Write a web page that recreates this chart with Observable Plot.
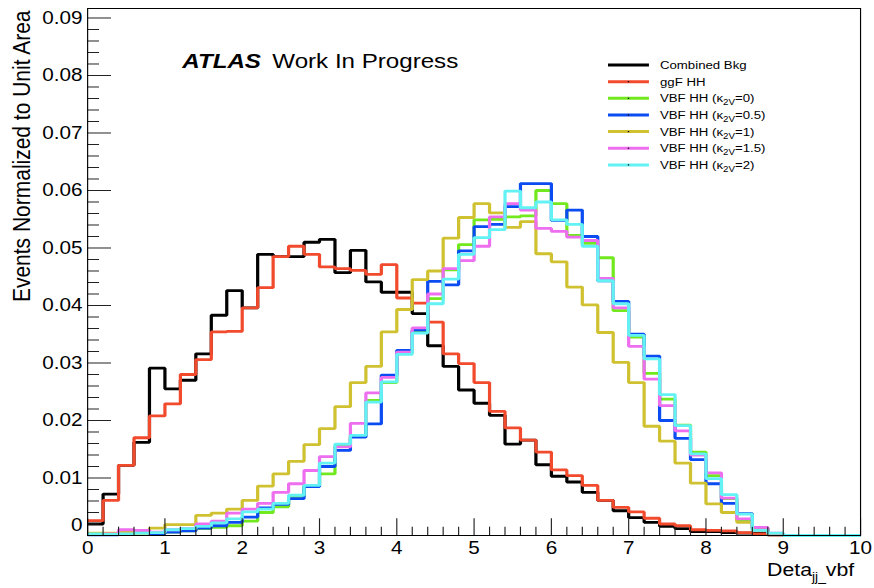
<!DOCTYPE html>
<html>
<head>
<meta charset="utf-8">
<script src="https://cdn.jsdelivr.net/npm/d3@7"></script>
<script src="https://cdn.jsdelivr.net/npm/@observablehq/plot@0.6"></script>
<style>
  html, body { margin: 0; padding: 0; background: #ffffff; }
  #chart { width: 874px; height: 588px; overflow: hidden; }
</style>
</head>
<body>
<div id="chart"></div>
<script>
// Δη_jj of the VBF-tagged jets, 50 bins of width 0.2 on [0, 10], each histogram normalised to unit area.
const binWidth = 0.2;
const nBins = 50;

const combinedBkg = [0.0020, 0.0072, 0.0122, 0.0162, 0.0291, 0.0255, 0.0270, 0.0316, 0.0383, 0.0426,
                     0.0396, 0.0489, 0.0485, 0.0485, 0.0510, 0.0515, 0.0457, 0.0496, 0.0441, 0.0423,
                     0.0423, 0.0386, 0.0330, 0.0294, 0.0253, 0.0230, 0.0209, 0.0159, 0.0166, 0.0123,
                     0.0103, 0.0093, 0.0075, 0.0061, 0.0043, 0.0031, 0.0023, 0.0016, 0.0012, 0.0007,
                     0.0007, 0.0005, 0.0004, 0.0004, 0.0001, 0, 0, 0, 0, 0];
const ggfHH       = [0.0026, 0.0061, 0.0122, 0.0170, 0.0208, 0.0229, 0.0280, 0.0306, 0.0354, 0.0355,
                     0.0396, 0.0431, 0.0485, 0.0503, 0.0489, 0.0467, 0.0464, 0.0461, 0.0454, 0.0471,
                     0.0413, 0.0404, 0.0371, 0.0316, 0.0299, 0.0266, 0.0216, 0.0187, 0.0166, 0.0145,
                     0.0114, 0.0104, 0.0087, 0.0061, 0.0049, 0.0041, 0.0030, 0.0020, 0.0017, 0.0010,
                     0.0009, 0.0008, 0.0005, 0.0003, 0.0001, 0, 0, 0, 0, 0];
const vbfK2V0     = [0.0002, 0.0002, 0.0003, 0.0004, 0.0004, 0.0006, 0.0008, 0.0012, 0.0014, 0.0017,
                     0.0025, 0.0040, 0.0050, 0.0068, 0.0087, 0.0107, 0.0155, 0.0174, 0.0235, 0.0266,
                     0.0318, 0.0355, 0.0412, 0.0462, 0.0506, 0.0549, 0.0550, 0.0554, 0.0556, 0.0600,
                     0.0577, 0.0522, 0.0508, 0.0483, 0.0391, 0.0345, 0.0282, 0.0237, 0.0192, 0.0145,
                     0.0104, 0.0064, 0.0026, 0.0012, 0.0003, 0, 0, 0, 0, 0];
const vbfK2V05    = [0.0001, 0.0001, 0.0005, 0.0005, 0.0003, 0.0006, 0.0008, 0.0013, 0.0017, 0.0023,
                     0.0032, 0.0048, 0.0054, 0.0064, 0.0085, 0.0120, 0.0148, 0.0171, 0.0194, 0.0279,
                     0.0322, 0.0357, 0.0442, 0.0436, 0.0495, 0.0537, 0.0541, 0.0572, 0.0612, 0.0612,
                     0.0548, 0.0566, 0.0520, 0.0443, 0.0407, 0.0350, 0.0312, 0.0200, 0.0169, 0.0132,
                     0.0090, 0.0056, 0.0038, 0.0012, 0.0003, 0, 0, 0, 0, 0];
const vbfK2V1     = [0.0004, 0.0004, 0.0007, 0.0009, 0.0013, 0.0019, 0.0019, 0.0035, 0.0039, 0.0046,
                     0.0061, 0.0086, 0.0107, 0.0129, 0.0158, 0.0186, 0.0224, 0.0266, 0.0294, 0.0354,
                     0.0393, 0.0445, 0.0460, 0.0517, 0.0553, 0.0577, 0.0561, 0.0536, 0.0546, 0.0490,
                     0.0476, 0.0432, 0.0401, 0.0353, 0.0301, 0.0266, 0.0190, 0.0164, 0.0126, 0.0091,
                     0.0055, 0.0040, 0.0023, 0.0010, 0.0002, 0, 0, 0, 0, 0];
const vbfK2V15    = [0.0002, 0.0003, 0.0010, 0.0009, 0.0006, 0.0010, 0.0012, 0.0020, 0.0025, 0.0039,
                     0.0046, 0.0056, 0.0075, 0.0090, 0.0113, 0.0137, 0.0154, 0.0195, 0.0248, 0.0275,
                     0.0319, 0.0361, 0.0420, 0.0464, 0.0478, 0.0503, 0.0554, 0.0577, 0.0566, 0.0534,
                     0.0529, 0.0519, 0.0513, 0.0447, 0.0396, 0.0329, 0.0272, 0.0226, 0.0182, 0.0140,
                     0.0109, 0.0065, 0.0029, 0.0014, 0.0004, 0, 0, 0, 0, 0];
const vbfK2V2     = [0.0003, 0.0002, 0.0003, 0.0004, 0.0005, 0.0010, 0.0012, 0.0016, 0.0022, 0.0029,
                     0.0041, 0.0046, 0.0056, 0.0070, 0.0087, 0.0126, 0.0159, 0.0174, 0.0232, 0.0267,
                     0.0315, 0.0352, 0.0403, 0.0446, 0.0489, 0.0518, 0.0532, 0.0599, 0.0570, 0.0580,
                     0.0549, 0.0541, 0.0503, 0.0443, 0.0403, 0.0348, 0.0307, 0.0245, 0.0191, 0.0142,
                     0.0099, 0.0071, 0.0037, 0.0009, 0.0004, 0, 0, 0, 0, 0];

const seriesNames  = ["Combined Bkg", "ggF HH", "VBF HH", "VBF HH", "VBF HH", "VBF HH", "VBF HH"];
const kappa2V      = [null, null, "0", "0.5", "1", "1.5", "2"];
const seriesColors = ["#000000", "#f24a2c", "#72e81e", "#0a4cf2", "#cfc130", "#ee6ef0", "#62f2f4"];
const seriesValues = [combinedBkg, ggfHH, vbfK2V0, vbfK2V05, vbfK2V1, vbfK2V15, vbfK2V2];

const xTickValues = [0, 1, 2, 3, 4, 5, 6, 7, 8, 9, 10];
const yTickValues = [0, 0.01, 0.02, 0.03, 0.04, 0.05, 0.06, 0.07, 0.08, 0.09];

const xTitle = "Deta";
const yTitle = "Events Normalized to Unit Area";

// ---- layout (drawn on a 760-wide canvas, then stretched to 874 px) ----
const W = 760, H = 588, outW = 874;
const mLeft = 75.7, mRight = 12.2, mTop = 8, mBottom = 53;
const FONT = "'Liberation Sans', Arial, Helvetica, sans-serif";

const binLow = d3.range(nBins).map(i => Math.round(i * binWidth * 10) / 10);
function stepRows(values) {
  const rows = values.map((v, i) => ({x: binLow[i], y: v}));
  rows.push({x: binLow[nBins - 1] + binWidth, y: values[values.length - 1]});
  return rows;
}

const xMinor = d3.range(0, 10.001, binWidth).map(v => Math.round(v * 10) / 10).filter(v => !xTickValues.includes(v));
const yMinor = d3.range(0.002, 0.0905, 0.002).map(v => Math.round(v * 1000) / 1000).filter(v => Math.round(v * 1000) % 10 !== 0);

const histMarks = seriesValues.map((vals, k) =>
  Plot.line(stepRows(vals), {
    x: "x", y: "y", curve: "step-after",
    stroke: seriesColors[k], strokeWidth: 2.8,
    strokeLinejoin: "miter", strokeLinecap: "butt"
  })
);

const tickColor = "#222";
const chart = Plot.plot({
  width: W, height: H,
  marginLeft: mLeft, marginRight: mRight, marginTop: mTop, marginBottom: mBottom,
  style: {fontFamily: FONT, fontSize: "18px", color: "#000", background: "#fff"},
  x: {domain: [0, 10]},
  y: {domain: [0, 0.09165]},
  marks: [
    ...histMarks,
    // inward ticks, ROOT style
    Plot.ruleY(yTickValues, {x1: 0, x2: 0.31, stroke: tickColor, strokeWidth: 1}),
    Plot.ruleY(yMinor, {x1: 0, x2: 0.155, stroke: tickColor, strokeWidth: 1}),
    Plot.ruleX(xTickValues, {y1: 0, y2: 0.0029, stroke: tickColor, strokeWidth: 1}),
    Plot.ruleX(xMinor, {y1: 0, y2: 0.00145, stroke: tickColor, strokeWidth: 1}),
    Plot.frame({stroke: "#000", strokeWidth: 1}),
    Plot.axisY(yTickValues.filter(d => d > 0), {
      tickSize: 0, tickPadding: 4.5, tickFormat: d3.format(".2f"), label: null, fontSize: 18
    }),
    Plot.text(["0"], {frameAnchor: "bottom-left", dx: -4.5, dy: -5, textAnchor: "end", fontSize: 18}),
    Plot.axisX(xTickValues, {tickSize: 0, tickPadding: 6, tickFormat: d3.format("d"), label: null, fontSize: 18}),
    Plot.text([yTitle], {
      frameAnchor: "top-left", rotate: -90, textAnchor: "end", lineAnchor: "middle",
      dx: -56.6, dy: 2, fontSize: 21
    }),
    Plot.text(["ATLAS"], {
      frameAnchor: "top-left", dx: 82.3, dy: 59, lineAnchor: "bottom", textAnchor: "start",
      fontSize: 21, fontWeight: "bold", fontStyle: "italic"
    }),
    Plot.text(["Work In Progress"], {
      frameAnchor: "top-left", dx: 160.6, dy: 59, lineAnchor: "bottom", textAnchor: "start", fontSize: 21
    })
  ]
});

// stretch horizontally to the final canvas size
chart.setAttribute("width", outW);
chart.setAttribute("height", H);
chart.setAttribute("viewBox", `0 0 ${W} ${H}`);
chart.setAttribute("preserveAspectRatio", "none");
chart.style.width = outW + "px";
chart.style.height = H + "px";
chart.style.maxWidth = "none";

const svg = d3.select(chart);

// x-axis title with subscript, right-aligned under the axis end
const xt = svg.append("text")
  .attr("x", W - mRight - 5).attr("y", 576)
  .attr("text-anchor", "end")
  .attr("font-family", FONT).attr("font-size", 18.5).attr("fill", "#000");
xt.append("tspan").text(xTitle);
xt.append("tspan").attr("dy", 5).attr("font-size", 12).text("jj_");
xt.append("tspan").attr("dy", -5).text("vbf");

// legend
const legend = svg.append("g")
  .attr("font-family", FONT).attr("font-size", 11.5).attr("fill", "#000")
  .attr("text-anchor", "start");
const lx1 = 528.7, lx2 = 564.3, tx = 573.9, ly0 = 65, lstep = 16.65;
seriesNames.forEach((name, k) => {
  const yy = ly0 + k * lstep;
  legend.append("line")
    .attr("x1", lx1).attr("x2", lx2).attr("y1", yy).attr("y2", yy)
    .attr("stroke", seriesColors[k]).attr("stroke-width", 3);
  if (k > 0) {
    legend.append("rect").attr("x", (lx1 + lx2) / 2 - 0.6).attr("y", yy - 0.6)
      .attr("width", 1.2).attr("height", 1.2).attr("fill", "#000");
  }
  const t = legend.append("text").attr("x", tx).attr("y", yy + 4.2).attr("text-anchor", "start");
  if (kappa2V[k] === null) {
    t.append("tspan").text(name);
  } else {
    t.append("tspan").text(name + " (\u03BA");
    t.append("tspan").attr("dy", 3).attr("font-size", 8.5).text("2V");
    t.append("tspan").attr("dy", -3).text("=" + kappa2V[k] + ")");
  }
});

document.getElementById("chart").appendChild(chart);
</script>
</body>
</html>
